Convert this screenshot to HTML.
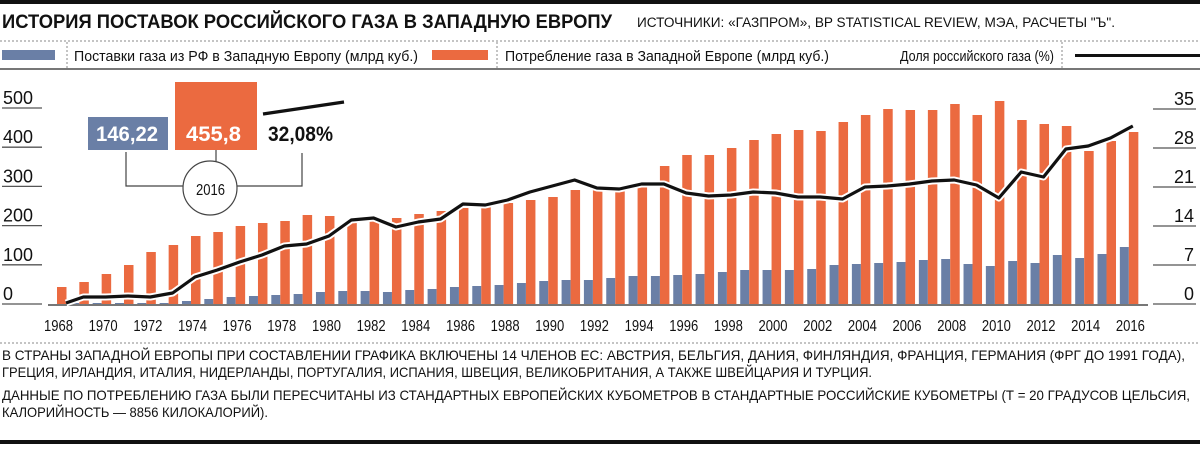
<!DOCTYPE html>
<html><head><meta charset="utf-8"><style>
body{margin:0;background:#fff;width:1200px;height:444px;overflow:hidden}
svg text{font-family:"Liberation Sans Narrow","Liberation Sans",sans-serif}
</style></head><body>
<svg id="s" width="1200" height="444" xmlns="http://www.w3.org/2000/svg">
<rect x="0" y="0" width="1200" height="4" fill="#111"/>
<text x="2" y="28" font-size="19" font-weight="bold" fill="#111" textLength="610" lengthAdjust="spacingAndGlyphs">ИСТОРИЯ ПОСТАВОК РОССИЙСКОГО ГАЗА В ЗАПАДНУЮ ЕВРОПУ</text>
<text x="637" y="27" font-size="13.5" fill="#111" textLength="478" lengthAdjust="spacingAndGlyphs">ИСТОЧНИКИ: «ГАЗПРОМ», BP STATISTICAL REVIEW, МЭА, РАСЧЕТЫ "Ъ".</text>
<line x1="0" y1="41" x2="1200" y2="41" stroke="#888" stroke-dasharray="2,2"/>
<rect x="2" y="50" width="53" height="10" fill="#6a7fa6"/>
<line x1="67" y1="42" x2="67" y2="68" stroke="#888" stroke-dasharray="2,2"/>
<text x="74" y="61" font-size="15" fill="#111" textLength="344" lengthAdjust="spacingAndGlyphs">Поставки газа из РФ в Западную Европу (млрд куб.)</text>
<rect x="432" y="50" width="56" height="10" fill="#eb6a40"/>
<line x1="497" y1="42" x2="497" y2="68" stroke="#888" stroke-dasharray="2,2"/>
<text x="505" y="61" font-size="15" fill="#111" textLength="324" lengthAdjust="spacingAndGlyphs">Потребление газа в Западной Европе (млрд куб.)</text>
<text x="900" y="61" font-size="15" fill="#111" textLength="154" lengthAdjust="spacingAndGlyphs">Доля российского газа (%)</text>
<line x1="1062" y1="42" x2="1062" y2="68" stroke="#888" stroke-dasharray="2,2"/>
<rect x="1075" y="54" width="125" height="3" fill="#111"/>
<rect x="0" y="68" width="1200" height="2" fill="#777"/>
<g id="g"></g>
<line x1="0" y1="343" x2="1200" y2="343" stroke="#888" stroke-dasharray="2,2"/>
<g font-size="14" fill="#111">
<text x="2" y="360" textLength="1183" lengthAdjust="spacingAndGlyphs">В СТРАНЫ ЗАПАДНОЙ ЕВРОПЫ ПРИ СОСТАВЛЕНИИ ГРАФИКА ВКЛЮЧЕНЫ 14 ЧЛЕНОВ ЕС: АВСТРИЯ, БЕЛЬГИЯ, ДАНИЯ, ФИНЛЯНДИЯ, ФРАНЦИЯ, ГЕРМАНИЯ (ФРГ ДО 1991 ГОДА),</text>
<text x="2" y="377" textLength="870" lengthAdjust="spacingAndGlyphs">ГРЕЦИЯ, ИРЛАНДИЯ, ИТАЛИЯ, НИДЕРЛАНДЫ, ПОРТУГАЛИЯ, ИСПАНИЯ, ШВЕЦИЯ, ВЕЛИКОБРИТАНИЯ, А ТАКЖЕ ШВЕЙЦАРИЯ И ТУРЦИЯ.</text>
<text x="2" y="400" textLength="1188" lengthAdjust="spacingAndGlyphs">ДАННЫЕ ПО ПОТРЕБЛЕНИЮ ГАЗА БЫЛИ ПЕРЕСЧИТАНЫ ИЗ СТАНДАРТНЫХ ЕВРОПЕЙСКИХ КУБОМЕТРОВ В СТАНДАРТНЫЕ РОССИЙСКИЕ КУБОМЕТРЫ (Т = 20 ГРАДУСОВ ЦЕЛЬСИЯ,</text>
<text x="2" y="417" textLength="266" lengthAdjust="spacingAndGlyphs">КАЛОРИЙНОСТЬ — 8856 КИЛОКАЛОРИЙ).</text>
</g>
<rect x="0" y="440" width="1200" height="4" fill="#111"/>
</svg>
<script>
var o=[287,282,274,265,252,245,236,232,226,223,221,215,216,220,218,218,214,211,208,205,203,200,197,190,190,186,183,166,155,155,148,140,134,130,131,122,115,109,110,110,104,115,101,120,124,126,151,141,132];
var b=[304,303,303,303,303,303,301,299,297,296,295,294,292,291,291,292,290,289,287,286,285,283,281,280,280,278,276,276,275,274,272,270,270,270,269,265,264,263,262,260,259,264,266,261,263,255,258,254,247];
var l=[303,297,297,296,297,293,277,270,262,255,246,244,236,220,218,227,222,219,204,205,200,192,186,180,188,189,184,184,193,196,195,192,193,197,197,199,187,186,184,181,180,185,198,172,177,149,146,138,126];
var h='';
var A=' lengthAdjust="spacingAndGlyphs"';
var lt=['500','400','300','200','100','0'];
for(var i=0;i<6;i++){var y=108+i*39.2;h+='<line x1="2" y1="'+y+'" x2="42" y2="'+y+'" stroke="#555" stroke-width="1.3"/><text x="3" y="'+(y-4)+'" font-size="18" fill="#111" textLength="'+(lt[i].length*10)+'"'+A+'>'+lt[i]+'</text>';}
var rt=['35','28','21','14','7','0'];
for(var i=0;i<6;i++){var y=109+i*39;var w=rt[i].length*10;h+='<line x1="1153" y1="'+y+'" x2="1196" y2="'+y+'" stroke="#555" stroke-width="1.3"/><text x="'+(1194-w)+'" y="'+(y-4)+'" font-size="18" fill="#111" textLength="'+w+'"'+A+'>'+rt[i]+'</text>';}
var pts=[];
for(var i=0;i<49;i++){var c=61+22.33*i;
 if(b[i]<304)h+='<rect x="'+(c-13)+'" y="'+b[i]+'" width="9" height="'+(305-b[i])+'" fill="#6a7fa6"/>';
 h+='<rect x="'+(c-4)+'" y="'+o[i]+'" width="9.5" height="'+(305-o[i])+'" fill="#eb6a40"/>';
 pts.push((i==0?66:c)+','+l[i]);
 if(i%2==0)h+='<text x="'+(c-17)+'" y="331" font-size="16" fill="#111" textLength="29"'+A+'>'+(1968+i)+'</text>';
}
h+='<line x1="48" y1="305" x2="1148" y2="305" stroke="#777" stroke-width="2"/>';
h+='<polyline points="'+pts.join(' ')+'" fill="none" stroke="#fff" stroke-width="7" stroke-linejoin="round"/>';
h+='<polyline points="'+pts.join(' ')+'" fill="none" stroke="#111" stroke-width="3.2" stroke-linejoin="round"/>';
h+='<rect x="88" y="117" width="80" height="33" fill="#6a7fa6"/><text x="96" y="141" font-size="21" font-weight="bold" fill="#fff" textLength="62"'+A+'>146,22</text>';
h+='<rect x="175" y="82" width="82" height="68" fill="#eb6a40"/><text x="186" y="141" font-size="21" font-weight="bold" fill="#fff" textLength="55"'+A+'>455,8</text>';
h+='<text x="268" y="141" font-size="21" font-weight="bold" fill="#111" textLength="65"'+A+'>32,08%</text>';
h+='<line x1="263" y1="114" x2="344" y2="102" stroke="#111" stroke-width="3.2"/>';
h+='<path d="M126 152V186H183 M237 186H302V153 M216 150V162" fill="none" stroke="#444" stroke-width="1.2"/>';
h+='<circle cx="210" cy="188" r="27" fill="#fff" stroke="#444" stroke-width="1.2"/><text x="196" y="195" font-size="16" fill="#111" textLength="29"'+A+'>2016</text>';
document.getElementById('g').innerHTML=h;
</script>
</body></html>
